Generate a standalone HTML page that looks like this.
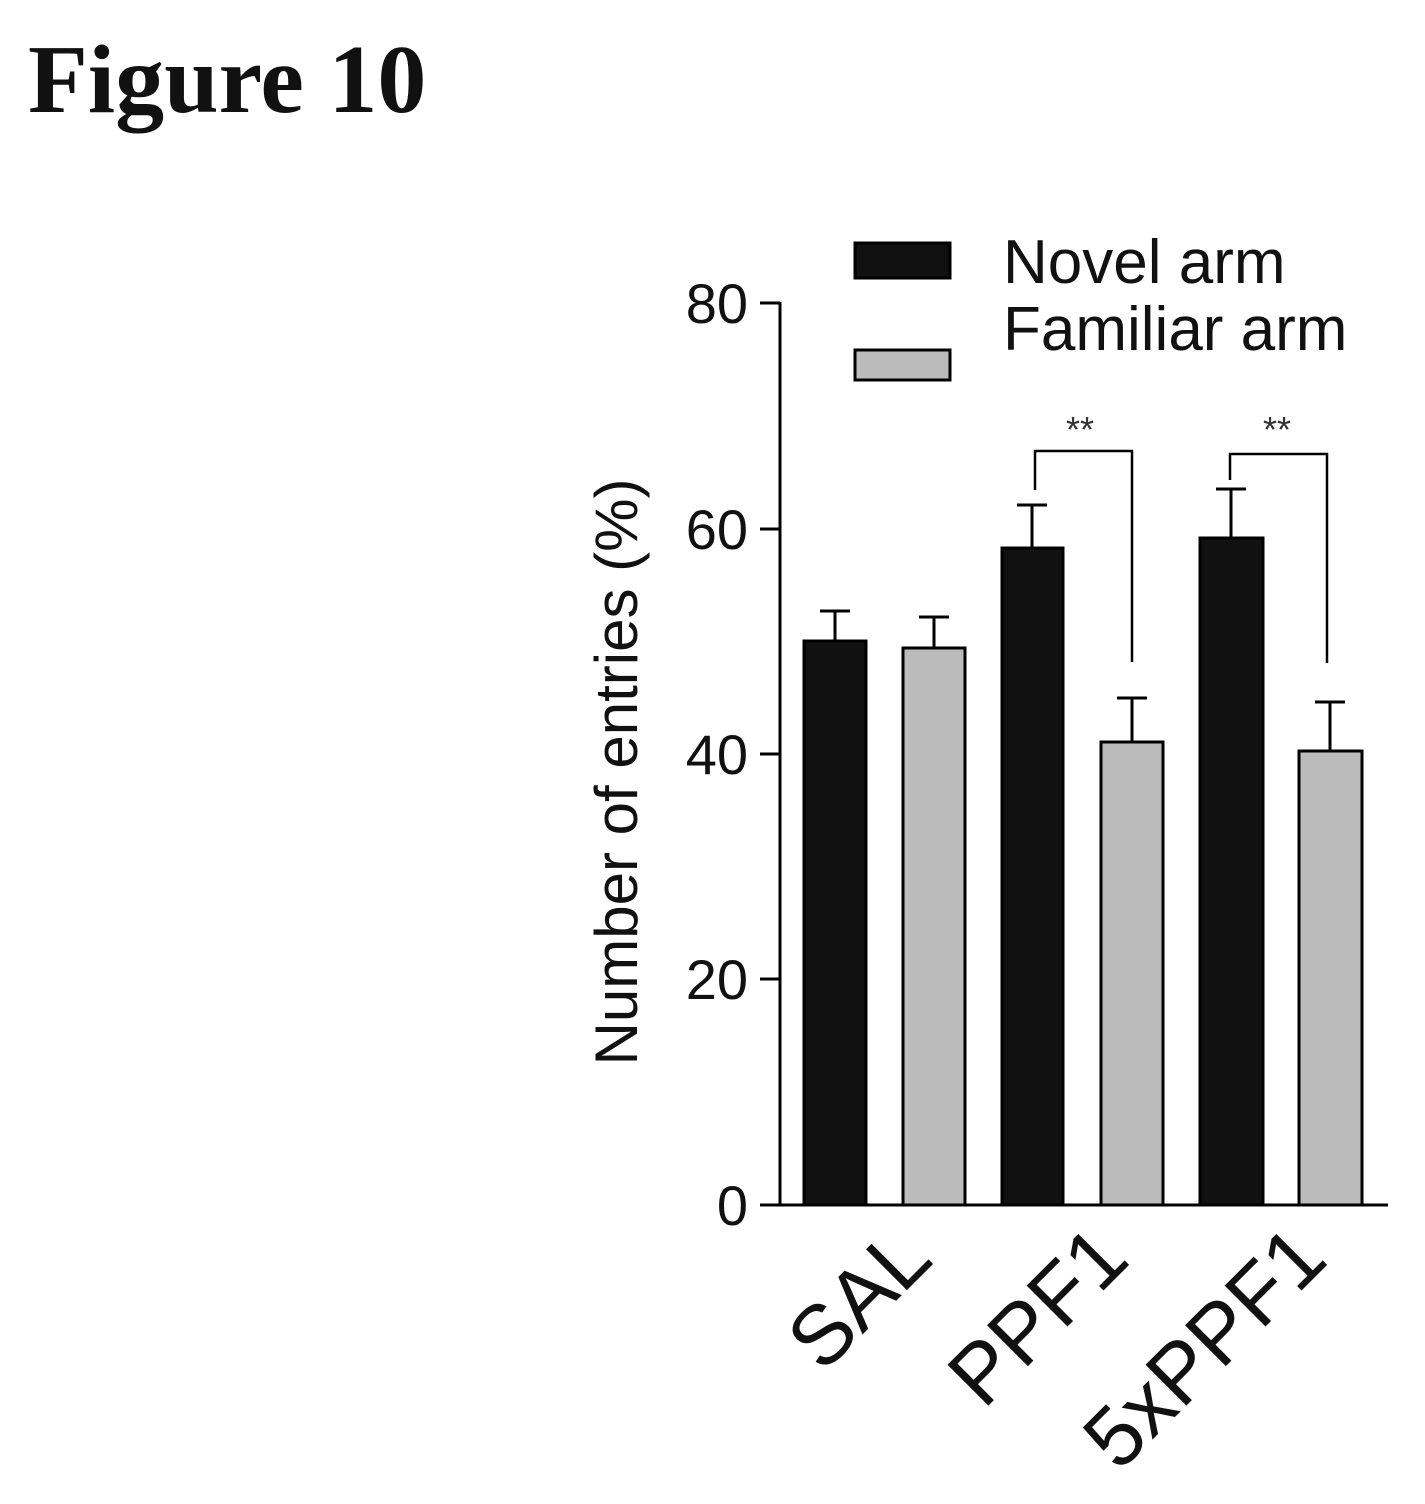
<!DOCTYPE html>
<html><head><meta charset="utf-8"><style>
html,body{margin:0;padding:0;background:#fff;}
svg{display:block;}
</style></head><body>
<svg width="1425" height="1504" viewBox="0 0 1425 1504" xmlns="http://www.w3.org/2000/svg">
<text x="28" y="112" font-family="Liberation Serif, serif" font-weight="bold" font-size="98" fill="#111">Figure 10</text>

<!-- legend -->
<rect x="855" y="243" width="95" height="35" fill="#111" stroke="#000" stroke-width="3"/>
<rect x="855" y="350" width="95" height="30" fill="#bbb" stroke="#000" stroke-width="3"/>
<text x="1003" y="283" font-family="Liberation Sans, sans-serif" font-size="62" fill="#111">Novel arm</text>
<text x="1003" y="350" font-family="Liberation Sans, sans-serif" font-size="62" fill="#111">Familiar arm</text>

<!-- axes -->
<g stroke="#000" stroke-width="3" fill="none">
<line x1="780" y1="302" x2="780" y2="1206"/>
<line x1="760" y1="1205" x2="1388" y2="1205"/>
<line x1="760" y1="303" x2="780" y2="303"/>
<line x1="760" y1="529" x2="780" y2="529"/>
<line x1="760" y1="754" x2="780" y2="754"/>
<line x1="760" y1="979" x2="780" y2="979"/>
<line x1="760" y1="1205" x2="780" y2="1205"/>
</g>
<g font-family="Liberation Sans, sans-serif" font-size="56" fill="#111" text-anchor="end">
<text x="748" y="323">80</text>
<text x="748" y="549">60</text>
<text x="748" y="774">40</text>
<text x="748" y="999">20</text>
<text x="748" y="1225">0</text>
</g>
<text transform="translate(637,772) rotate(-90)" text-anchor="middle" font-family="Liberation Sans, sans-serif" font-size="60" fill="#111">Number of entries (%)</text>

<!-- error bars -->
<g stroke="#000" stroke-width="3">
<line x1="835" y1="611" x2="835" y2="641"/><line x1="820" y1="611" x2="850" y2="611"/>
<line x1="934" y1="617" x2="934" y2="648"/><line x1="919" y1="617" x2="949" y2="617"/>
<line x1="1032" y1="505" x2="1032" y2="548"/><line x1="1017" y1="505" x2="1047" y2="505"/>
<line x1="1132" y1="698" x2="1132" y2="742"/><line x1="1117" y1="698" x2="1147" y2="698"/>
<line x1="1231" y1="489" x2="1231" y2="538"/><line x1="1216" y1="489" x2="1246" y2="489"/>
<line x1="1330" y1="702" x2="1330" y2="751"/><line x1="1315" y1="702" x2="1345" y2="702"/>
</g>
<!-- bars -->
<g stroke="#000" stroke-width="3">
<rect x="804" y="641" width="62" height="564" fill="#111"/>
<rect x="903" y="648" width="62" height="557" fill="#bbb"/>
<rect x="1002" y="548" width="61" height="657" fill="#111"/>
<rect x="1101" y="742" width="62" height="463" fill="#bbb"/>
<rect x="1200" y="538" width="63" height="667" fill="#111"/>
<rect x="1299" y="751" width="63" height="454" fill="#bbb"/>
</g>
<!-- significance -->
<g stroke="#000" stroke-width="2.5" fill="none">
<polyline points="1035,490 1035,451 1132,451 1132,662"/>
<polyline points="1230,480 1230,454 1327,454 1327,663"/>
</g>
<text x="1080" y="442" text-anchor="middle" font-family="Liberation Sans, sans-serif" font-size="36" fill="#333">**</text>
<text x="1277" y="442" text-anchor="middle" font-family="Liberation Sans, sans-serif" font-size="36" fill="#333">**</text>

<!-- x labels -->
<g font-family="Liberation Sans, sans-serif" font-size="84" fill="#111" text-anchor="end">
<text transform="translate(935,1262) rotate(-45)">SAL</text>
<text transform="translate(1132,1262) rotate(-45)">PPF1</text>
<text transform="translate(1330,1262) rotate(-45)">5xPPF1</text>
</g>
</svg>
</body></html>
